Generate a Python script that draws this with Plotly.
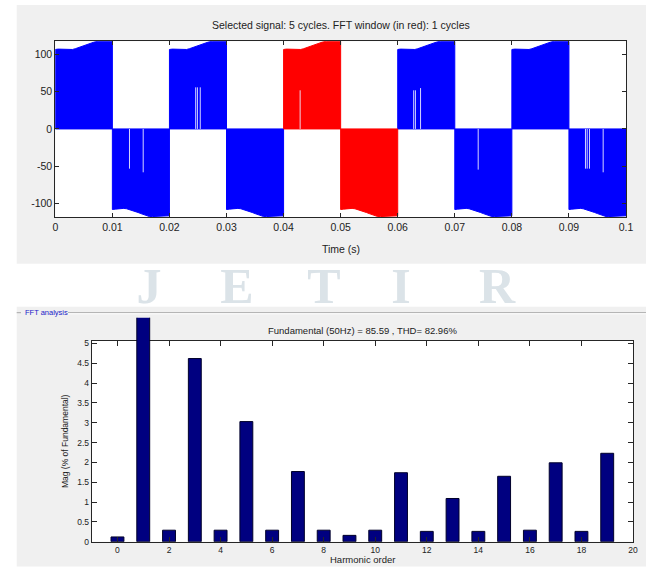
import plotly.graph_objects as go

W, H = 653, 571

# ---------------- data: selected signal (top panel) ----------------
half_cycle_starts = [0.00, 0.01, 0.02, 0.03, 0.04, 0.05, 0.06, 0.07, 0.08, 0.09]
half_cycle_signs = [1, -1, 1, -1, 1, -1, 1, -1, 1, -1]
half_cycle_length = 0.01
fft_window = [0.04, 0.06]          # window shown in red
# envelope of the switched signal inside one half cycle (offset s -> |value|)
env_offsets = [0.0, 0.0005, 0.001, 0.0015, 0.002, 0.0025, 0.003, 0.0035, 0.004, 0.0045,
               0.005, 0.0055, 0.006, 0.0065, 0.007, 0.0075, 0.008, 0.0085, 0.009, 0.0095, 0.01]
env_pos = [107, 107.5, 107.5, 107, 106.5, 106.5, 107, 108, 109.5, 111,
           112.5, 114, 115.5, 116.5, 117.5, 118, 118, 118, 118, 118, 118]
env_neg = [108.5, 108, 107.5, 107, 107, 107.5, 108.5, 109.5, 111, 112.5,
           114, 115.5, 117, 118, 118, 118, 118, 118, 118, 118, 117]
notch_times = [0.0130, 0.0154, 0.0246, 0.0249, 0.0254, 0.0429, 0.0628, 0.0631, 0.0640,
               0.0741, 0.0929, 0.0932, 0.0936, 0.0960]
notch_values = [-53.5, -58.4, 56, 56, 56, 52, 52, 52, 55, -54.8, -53.5, -53.5, -53.5, -58.4]
time_ticks = [0, 0.01, 0.02, 0.03, 0.04, 0.05, 0.06, 0.07, 0.08, 0.09, 0.1]
time_tick_labels = ["0", "0.01", "0.02", "0.03", "0.04", "0.05", "0.06", "0.07", "0.08", "0.09", "0.1"]
signal_ticks = [-100, -50, 0, 50, 100]
signal_tick_labels = ["-100", "-50", "0", "50", "100"]
signal_range = [-119, 118]

# ---------------- data: FFT analysis (bottom panel) ----------------
harmonic_order = [0, 1, 2, 3, 4, 5, 6, 7, 8, 9, 10, 11, 12, 13, 14, 15, 16, 17, 18, 19]
magnitude_pct = [0.12, 100, 0.29, 4.62, 0.29, 3.03, 0.29, 1.77, 0.29, 0.16,
                 0.29, 1.74, 0.26, 1.09, 0.26, 1.65, 0.29, 1.99, 0.26, 2.23]
harmonic_ticks = [0, 2, 4, 6, 8, 10, 12, 14, 16, 18, 20]
mag_ticks = [0, 0.5, 1, 1.5, 2, 2.5, 3, 3.5, 4, 4.5, 5]
mag_range = [0, 5.07]
harmonic_range = [-1, 20]

top_title = "Selected signal: 5 cycles. FFT window (in red): 1 cycles"
fft_title = "Fundamental (50Hz) = 85.59 , THD= 82.96%"
watermark_letters = ["J", "E", "T", "I", "R"]

# ---------------- helpers ----------------
def px(x):
    return x / W

def py(y):
    return 1 - y / H

FONT = "Arial, Liberation Sans, sans-serif"
AXC = "#262626"

fig = go.Figure()

# ---- watermark band (between the two panels), clipped to its own subplot ----
wm_x = [149, 237, 324, 401, 497]
fig.add_trace(go.Scatter(
    x=wm_x, y=[316] * len(wm_x), text=["<b>%s</b>" % c for c in watermark_letters], mode="text",
    textposition="top center", cliponaxis=True, hoverinfo="skip", showlegend=False,
    textfont=dict(family="Liberation Serif, DejaVu Serif, serif", size=50, color="#dbe3e8"),
    xaxis="x", yaxis="y"))

# ---- top signal ----
blue_x, blue_y, red_x, red_y = [], [], [], []
for t0, s in zip(half_cycle_starts, half_cycle_signs):
    env = env_pos if s > 0 else env_neg
    xs = [t0] + [t0 + o for o in env_offsets] + [t0 + half_cycle_length, t0, None]
    ys = [0] + [s * e for e in env] + [0, 0, None]
    if fft_window[0] <= t0 < fft_window[1]:
        red_x += xs; red_y += ys
    else:
        blue_x += xs; blue_y += ys

fig.add_trace(go.Scatter(x=blue_x, y=blue_y, mode="lines", fill="toself",
                         fillcolor="#0000ff", line=dict(color="#0000ff", width=1),
                         hoverinfo="skip", showlegend=False, xaxis="x2", yaxis="y2"))
fig.add_trace(go.Scatter(x=red_x, y=red_y, mode="lines", fill="toself",
                         fillcolor="#ff0000", line=dict(color="#ff0000", width=1),
                         hoverinfo="skip", showlegend=False, xaxis="x2", yaxis="y2"))
nx, ny = [], []
for t, v in zip(notch_times, notch_values):
    nx += [t, t, None]
    ny += [0, v, None]
fig.add_trace(go.Scatter(x=nx, y=ny, mode="lines",
                         line=dict(color="rgba(235,235,255,0.9)", width=1),
                         hoverinfo="skip", showlegend=False, xaxis="x2", yaxis="y2"))

# ---- FFT bars ----
fund_idx = [i for i, h in enumerate(harmonic_order) if h == 1]
other_idx = [i for i, h in enumerate(harmonic_order) if h != 1]
bar_style = dict(marker=dict(color="#000080", line=dict(color="#00002a", width=1)),
                 width=0.5, hoverinfo="skip", showlegend=False)
fig.add_trace(go.Bar(x=[harmonic_order[i] for i in other_idx],
                     y=[magnitude_pct[i] for i in other_idx],
                     xaxis="x3", yaxis="y3", **bar_style))
fig.add_trace(go.Bar(x=[harmonic_order[i] for i in fund_idx],
                     y=[magnitude_pct[i] for i in fund_idx],
                     xaxis="x3", yaxis="y4", **bar_style))

# ---- layout geometry ----
top_ax = dict(l=55.3, r=626, t=41.3, b=217.3)
bot_ax = dict(l=91.7, r=633, t=340.7, b=541.7)
fund_top = 317.7
y3_dom = [py(bot_ax["b"]), py(bot_ax["t"])]
y4_dom = [py(bot_ax["b"]), py(fund_top)]
y4_max = mag_range[1] * (y4_dom[1] - y4_dom[0]) / (y3_dom[1] - y3_dom[0])

common_axis = dict(showgrid=False, zeroline=False, showline=True, linecolor=AXC, linewidth=1,
                   ticks="inside", mirror="ticks", tickcolor=AXC, tickwidth=1, automargin=False)

fig.update_layout(
    width=W, height=H, margin=dict(l=0, r=0, t=0, b=0, pad=0, autoexpand=False),
    paper_bgcolor="white", plot_bgcolor="rgba(0,0,0,0)",
    font=dict(family=FONT, color="#222222"),
    showlegend=False, barmode="overlay",
    xaxis=dict(domain=[0, 1], range=[0, W], visible=False, fixedrange=True, automargin=False),
    yaxis=dict(domain=[py(306.7), py(263.7)], range=[306.7, 263.7], visible=False,
               fixedrange=True, automargin=False),
    xaxis2=dict(domain=[px(top_ax["l"]), px(top_ax["r"])], range=[0, 0.1], anchor="y2",
                tickvals=time_ticks, ticktext=time_tick_labels, ticklen=4,
                tickfont=dict(size=10.5), **common_axis),
    yaxis2=dict(domain=[py(top_ax["b"]), py(top_ax["t"])], range=signal_range, anchor="x2",
                tickvals=signal_ticks, ticktext=signal_tick_labels, ticklen=4,
                tickfont=dict(size=10.5), **common_axis),
    xaxis3=dict(domain=[px(bot_ax["l"]), px(bot_ax["r"])], range=harmonic_range, anchor="y3",
                tickvals=harmonic_ticks, ticklen=5, tickfont=dict(size=8.5), **common_axis),
    yaxis3=dict(domain=y3_dom, range=mag_range, anchor="x3",
                tickvals=mag_ticks, ticklen=5, tickfont=dict(size=8.5), **common_axis),
    yaxis4=dict(domain=y4_dom, range=[0, y4_max], anchor="x3", visible=False, automargin=False),
)

shapes = [
    # grey figure panels
    dict(type="rect", xref="paper", yref="paper", x0=px(16.7), x1=px(646), y0=py(263.7), y1=py(5),
         fillcolor="#f0f0f0", line=dict(width=0), layer="below"),
    dict(type="rect", xref="paper", yref="paper", x0=px(16.7), x1=px(646), y0=py(566.5), y1=py(306.7),
         fillcolor="#f0f0f0", line=dict(width=0), layer="below"),
    # group box border of the FFT analysis panel
    dict(type="line", xref="paper", yref="paper", x0=px(16.7), x1=px(21), y0=py(312.7), y1=py(312.7),
         line=dict(color="#a8a8a8", width=1), layer="below"),
    dict(type="line", xref="paper", yref="paper", x0=px(68), x1=px(646), y0=py(312.7), y1=py(312.7),
         line=dict(color="#a8a8a8", width=1), layer="below"),
    dict(type="line", xref="paper", yref="paper", x0=px(68), x1=px(646), y0=py(313.8), y1=py(313.8),
         line=dict(color="#ffffff", width=1), layer="below"),
    # white axes backgrounds
    dict(type="rect", xref="x2 domain", yref="y2 domain", x0=0, x1=1, y0=0, y1=1,
         fillcolor="white", line=dict(width=0), layer="below"),
    dict(type="rect", xref="x3 domain", yref="y3 domain", x0=0, x1=1, y0=0, y1=1,
         fillcolor="white", line=dict(width=0), layer="below"),
]
fig.update_layout(shapes=shapes)

ann = [
    dict(text=top_title, x=px((top_ax["l"] + top_ax["r"]) / 2), y=py(25), size=10.5),
    dict(text="Time (s)", x=px((top_ax["l"] + top_ax["r"]) / 2), y=py(249), size=10.5),
    dict(text=fft_title, x=px((bot_ax["l"] + bot_ax["r"]) / 2), y=py(330.7), size=9.5),
    dict(text="Harmonic order", x=px((bot_ax["l"] + bot_ax["r"]) / 2), y=py(559), size=9.5),
]
annotations = [dict(text=a["text"], x=a["x"], y=a["y"], xref="paper", yref="paper",
                    xanchor="center", yanchor="middle", showarrow=False,
                    font=dict(size=a["size"], family=FONT, color="#222222")) for a in ann]
annotations.append(dict(text="Mag (% of Fundamental)", x=px(64.6), y=py(441.5), xref="paper",
                        yref="paper", xanchor="center", yanchor="middle", showarrow=False,
                        textangle=-90, font=dict(size=8.5, family=FONT, color="#222222")))
annotations.append(dict(text="FFT analysis", x=px(22.5), y=py(312.7), xref="paper", yref="paper",
                        xanchor="left", yanchor="middle", showarrow=False,
                        font=dict(size=7.5, family=FONT, color="#2020c8")))
fig.update_layout(annotations=annotations)

fig.write_html("out.html", config={"displayModeBar": False},
               post_script="document.body.style.margin='0';document.body.style.overflow='hidden';")
